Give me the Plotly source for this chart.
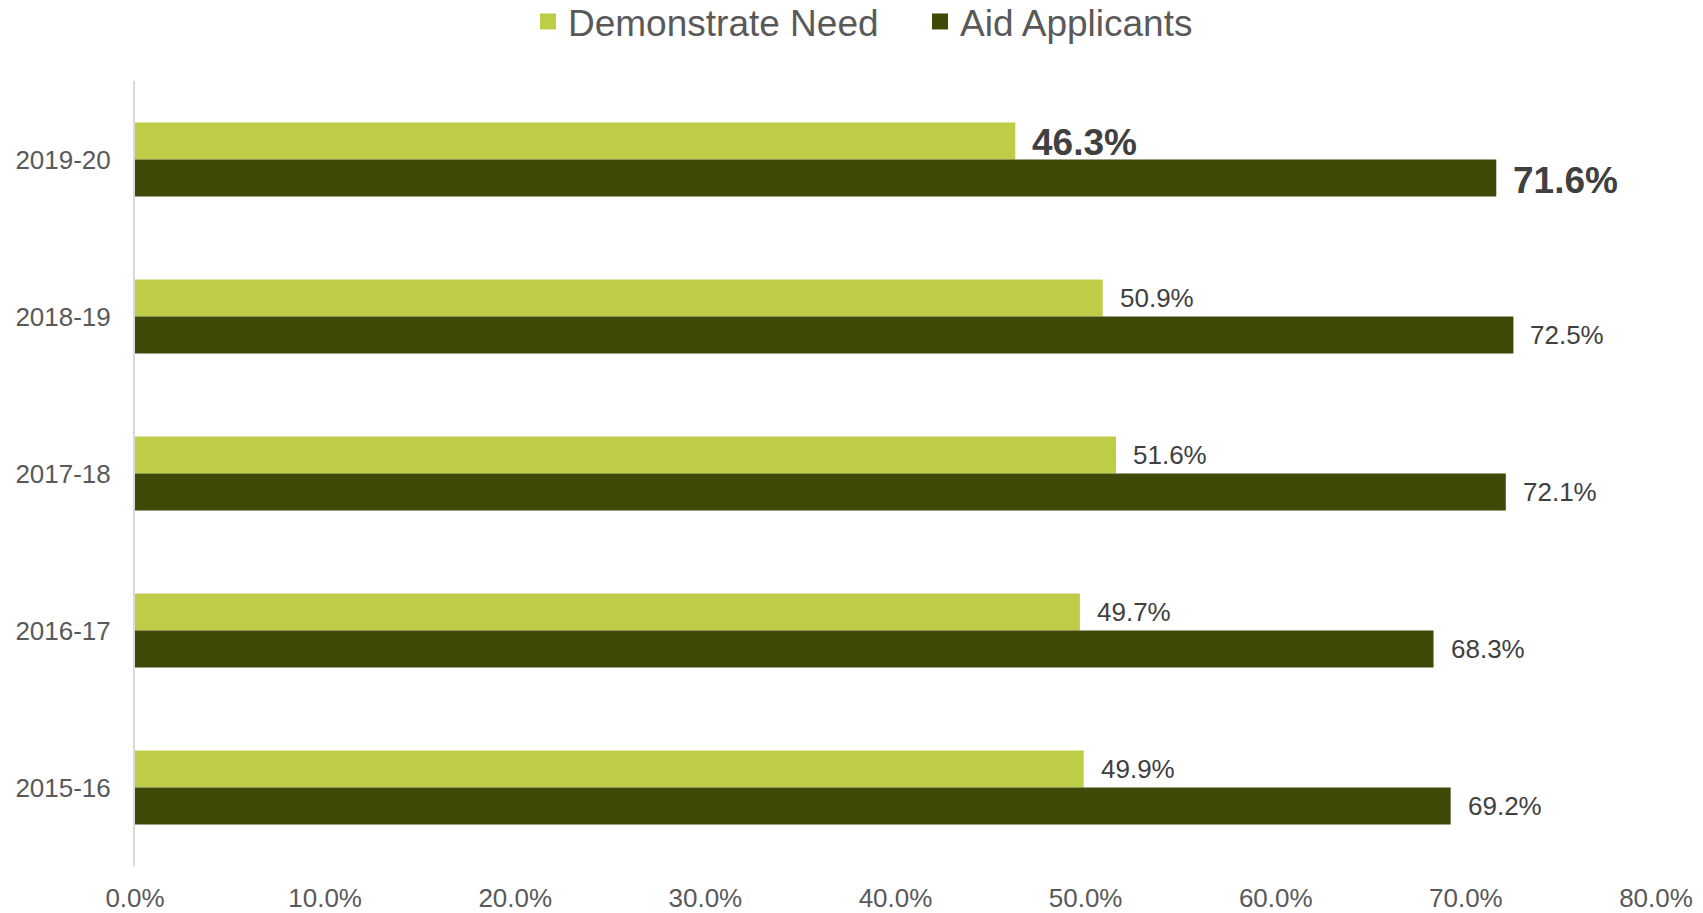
import plotly.graph_objects as go

years = ["2019-20", "2018-19", "2017-18", "2016-17", "2015-16"]
demonstrate_need = [46.3, 50.9, 51.6, 49.7, 49.9]
aid_applicants = [71.6, 72.5, 72.1, 68.3, 69.2]
highlight_year = "2019-20"
x_ticks = [0, 10, 20, 30, 40, 50, 60, 70, 80]
x_tick_labels = ["0.0%", "10.0%", "20.0%", "30.0%", "40.0%", "50.0%", "60.0%", "70.0%", "80.0%"]

FONT = "Arial, Liberation Sans, sans-serif"
LIGHT = "#BFCC47"
DARK = "#3F4A09"

fig = go.Figure()
fig.add_trace(go.Bar(y=years, x=demonstrate_need, orientation="h", name="Demonstrate Need",
                     marker=dict(color=LIGHT, line=dict(width=0)), showlegend=False))
fig.add_trace(go.Bar(y=years, x=aid_applicants, orientation="h", name="Aid Applicants",
                     marker=dict(color=DARK, line=dict(width=0)), showlegend=False))
# legend entries with larger square swatches
for name, col in [("Demonstrate Need", LIGHT), ("Aid Applicants", DARK)]:
    fig.add_trace(go.Scatter(x=[None], y=[None], mode="markers", name=name,
                             marker=dict(symbol="square", size=16, color=col, line=dict(width=0)),
                             hoverinfo="skip"))

annotations = []
for trace_idx, (vals, off) in enumerate([(demonstrate_need, -0.118), (aid_applicants, 0.118)]):
    for i, (yr, v) in enumerate(zip(years, vals)):
        bold = yr == highlight_year
        annotations.append(dict(
            x=v, y=i + off, xref="x", yref="y", text=f"{v:.1f}%",
            showarrow=False, xanchor="left", yanchor="middle", xshift=15,
            yshift=-2 if bold else 0,
            font=dict(family=FONT, size=37 if bold else 26, color="#404040",
                      weight="bold" if bold else "normal"),
        ))

fig.update_layout(
    width=1703, height=913,
    paper_bgcolor="white", plot_bgcolor="white",
    barmode="group", bargap=0.53, bargroupgap=0,
    margin=dict(l=135, r=47, t=81, b=47, autoexpand=False),
    font=dict(family=FONT, size=26, color="#595959"),
    legend=dict(orientation="h", x=528 / 1703, xanchor="left", xref="container",
                y=0.976, yanchor="middle", yref="container",
                font=dict(family=FONT, size=37, color="#595959"),
                itemwidth=30, traceorder="normal",
                entrywidth=347, entrywidthmode="pixels"),
    annotations=annotations,
    xaxis=dict(range=[0, 80], tickvals=x_ticks, ticktext=x_tick_labels,
               showgrid=False, zeroline=False, showline=False, automargin=False,
               ticks="outside", ticklen=9, tickcolor="rgba(0,0,0,0)",
               tickfont=dict(family=FONT, size=26, color="#595959")),
    yaxis=dict(type="category", autorange="reversed", categoryorder="array", categoryarray=years,
               range=[4.5, -0.5],
               showgrid=False, zeroline=False, showline=True, linecolor="#D9D9D9", linewidth=2,
               automargin=False,
               ticks="outside", ticklen=17, tickcolor="rgba(0,0,0,0)",
               tickfont=dict(family=FONT, size=26, color="#595959")),
)

fig.write_html("out.html", config={"displayModeBar": False},
               post_script="document.body.style.margin='0';document.body.style.overflow='hidden';")
